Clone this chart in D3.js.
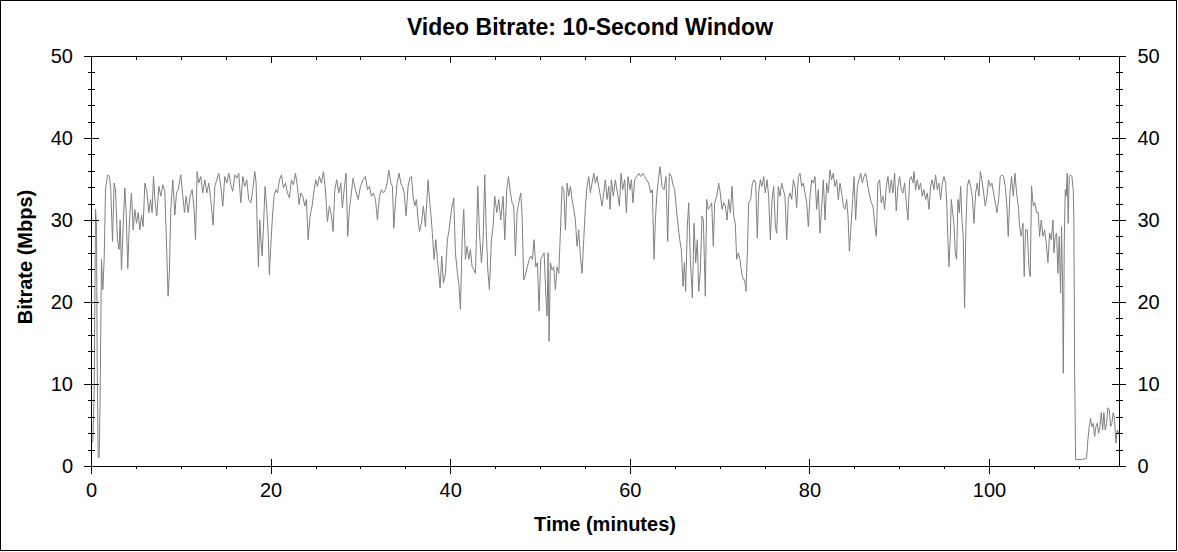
<!DOCTYPE html>
<html>
<head>
<meta charset="utf-8">
<script src="https://cdn.jsdelivr.net/npm/d3@7"></script>
<style>
  body { margin: 0; background: #fff; }
  text { font-family: Arial, "Liberation Sans", sans-serif; }
</style>
</head>
<body>
<script>

// time of each sample (minutes) and bitrate (Mbps)
const minutes = [
    0.00,0.15,0.30,0.45,0.56,0.63,0.74,0.85,0.96,1.11,
    1.26,1.41,1.56,1.78,2.00,2.15,2.34,2.52,2.67,2.89,
    3.08,3.19,3.34,3.52,3.71,3.86,4.04,4.23,4.45,4.64,
    4.82,5.01,5.19,5.38,5.57,5.75,5.94,6.16,6.38,6.57,
    6.75,6.90,7.09,7.27,7.50,7.72,7.94,8.16,8.35,8.53,
    8.68,8.83,9.05,9.28,9.46,9.65,9.94,10.17,10.35,10.54,
    10.76,10.98,11.21,11.43,11.58,11.76,11.95,12.17,12.39,12.62,
    12.84,13.06,13.28,13.54,13.73,13.95,14.17,14.40,14.62,14.84,
    15.07,15.29,15.51,15.73,15.96,16.18,16.40,16.62,16.85,17.07,
    17.29,17.51,17.74,17.96,18.18,18.33,18.48,18.59,18.74,18.89,
    19.00,19.15,19.33,19.52,19.67,19.81,19.96,20.15,20.33,20.52,
    20.71,20.93,21.15,21.37,21.60,21.82,22.04,22.26,22.49,22.71,
    22.93,23.12,23.30,23.53,23.75,23.93,24.12,24.34,24.56,24.79,
    24.97,25.16,25.38,25.60,25.83,26.05,26.27,26.49,26.72,26.90,
    27.09,27.31,27.53,27.76,27.94,28.13,28.35,28.53,28.72,
    29.13,29.39,29.69,29.95,30.24,30.50,30.73,30.95,31.17,31.40,
    31.62,31.84,32.06,32.29,32.51,32.73,32.92,33.10,33.33,33.51,
    33.66,33.84,34.03,34.25,34.44,34.62,34.81,35.03,35.25,35.44,
    35.63,35.81,36.00,36.18,36.37,36.52,36.74,36.96,37.18,37.33,
    37.48,37.67,37.85,38.00,38.15,38.34,38.52,38.67,38.82,39.00,
    39.19,39.41,39.63,39.82,40.00,40.15,40.34,40.52,40.75,40.93,
    41.08,41.27,41.45,41.64,41.82,42.01,42.19,42.38,42.60,42.75,
    42.90,43.01,43.20,43.42,43.61,43.79,43.94,44.13,44.31,44.53,
    44.72,44.90,45.13,45.35,45.57,45.83,46.02,46.24,46.43,46.65,
    46.83,47.02,47.20,47.39,47.58,47.80,47.95,48.13,48.36,48.54,
    48.73,48.91,49.10,49.28,49.47,49.65,49.84,50.02,50.21,50.40,
    50.58,50.73,50.84,50.95,51.10,51.29,51.47,51.66,51.84,52.03,
    52.21,52.40,52.59,52.77,52.96,53.14,53.33,53.51,53.70,53.88,
    54.07,54.25,54.44,54.63,54.81,55.00,55.18,55.37,55.55,55.74,
    55.93,56.11,56.30,56.48,56.67,56.85,57.04,57.22,57.41,57.60,
    57.74,
    57.89,58.11,58.33,58.56,58.78,58.97,59.15,59.37,59.56,59.74,
    59.97,60.12,60.30,60.49,60.71,60.93,61.15,61.38,61.60,61.82,
    62.04,62.27,62.45,62.64,62.79,62.94,63.12,63.31,63.53,63.75,
    63.97,64.16,64.35,64.57,64.79,64.94,65.13,65.31,65.50,65.68,
    65.87,66.02,66.16,66.35,66.50,66.68,66.91,67.09,67.28,67.46,
    67.61,67.80,67.98,68.13,68.35,68.50,68.69,68.87,69.06,69.24,
    69.39,69.62,69.84,70.02,70.21,70.40,70.58,70.77,70.95,71.14,
    71.32,71.51,71.69,71.84,72.03,72.21,72.40,72.58,72.73,72.88,
    73.03,73.18,73.40,73.59,73.77,73.96,74.14,74.29,74.48,74.66,
    74.85,75.03,75.22,75.40,75.59,75.78,75.96,76.15,76.30,76.48,
    76.67,76.85,77.04,77.22,77.41,77.59,77.78,77.97,78.15,78.34,
    78.52,78.71,78.89,79.08,79.26,79.45,79.64,79.82,80.01,80.19,
    80.38,80.56,80.75,80.93,81.12,81.31,81.49,81.68,81.86,82.05,
    82.23,82.42,82.60,82.79,82.98,83.16,83.35,83.53,83.72,83.90,
    84.09,84.24,84.39,84.57,84.76,84.91,85.09,85.28,85.46,85.65,
    85.83,86.02,86.20,86.39,86.58,
    86.83,87.02,87.20,87.39,87.57,87.76,87.94,88.13,88.32,88.50,
    88.69,88.87,89.06,89.24,89.43,89.61,89.80,89.99,90.17,90.36,
    90.54,90.73,90.91,91.10,91.28,91.47,91.58,91.77,91.95,92.14,
    92.32,92.51,92.69,92.88,93.07,93.25,93.44,93.62,93.81,93.99,
    94.18,94.36,94.55,94.74,94.92,95.11,95.26,95.37,95.48,95.63,
    95.74,95.89,96.03,96.18,96.33,96.48,96.63,96.78,96.93,97.07,
    97.22,97.37,97.52,97.70,97.89,98.08,98.26,98.45,98.63,98.82,
    98.97,99.15,99.34,99.52,99.71,99.89,100.08,100.26,100.45,100.64,
    100.82,101.01,101.19,101.38,101.56,101.75,101.93,102.08,102.27,102.45,
    102.64,102.83,103.01,103.20,103.35,103.53,103.72,103.86,104.01,104.20,
    104.38,104.53,104.68,104.87,105.05,105.24,105.42,105.57,105.76,105.94,
    106.13,106.31,106.50,106.69,106.87,107.06,107.17,107.32,107.46,107.61,
    107.76,107.91,108.02,108.13,108.21,108.32,108.43,108.54,108.65,108.76,
    108.87,109.02,109.17,109.32,109.39,109.47,109.58,110.21,110.80,110.95,
    111.10,111.25,111.40,111.55,111.70,111.84,111.99,112.14,112.29,112.44,
    112.59,112.73,112.88,113.03,113.18,113.33,113.48,113.62,113.77,113.92,
    114.07,114.22,114.37
];

const mbps = [
    2.9,3.0,8.9,31.3,29.2,13.0,1.1,1.0,8.1,25.2,
    21.5,25.2,33.7,35.5,35.3,33.7,27.4,34.5,33.7,27.6,
    26.4,30.0,23.9,29.2,33.9,30.9,24.1,30.0,33.3,28.8,
    31.3,29.6,30.9,28.8,30.6,29.2,34.5,33.5,30.9,32.5,
    30.9,35.3,32.1,30.5,34.1,32.9,34.3,33.5,27.2,20.7,
    23.9,31.3,34.9,30.6,33.3,33.7,35.5,32.9,30.9,32.9,
    30.9,32.9,33.7,31.3,27.6,35.9,34.5,35.3,33.3,34.9,
    33.3,34.5,32.5,29.4,34.1,34.9,35.7,34.1,31.7,35.3,
    34.5,35.7,34.3,33.5,35.5,35.1,35.7,32.1,35.3,34.1,
    34.9,32.5,32.1,33.7,35.9,34.5,28.0,24.3,30.0,27.2,
    25.6,29.2,34.1,31.3,28.4,23.3,26.8,30.5,32.9,33.7,
    33.3,34.9,35.5,33.9,34.5,33.3,32.7,34.9,34.3,35.7,
    34.1,31.9,33.3,32.9,31.7,32.5,27.6,30.5,31.7,33.7,
    34.9,34.1,35.3,34.5,35.9,33.7,29.8,31.7,30.5,28.6,
    33.7,34.9,33.3,34.5,31.5,33.7,35.7,28.0,31.3,
    35.1,33.7,32.5,34.1,34.9,35.3,33.7,34.1,32.9,33.3,
    32.5,30.0,32.9,33.7,33.3,33.7,34.5,36.1,34.5,34.1,
    29.0,32.1,34.5,35.7,34.5,34.1,33.3,30.5,34.1,35.1,
    35.3,32.9,31.7,32.5,30.0,28.6,29.6,31.7,29.2,32.1,
    34.9,32.1,30.0,27.6,25.2,27.6,25.2,23.5,21.7,25.6,
    22.3,23.5,27.6,28.8,30.5,31.7,32.7,26.0,23.5,21.9,
    19.1,27.6,31.3,25.2,26.8,25.2,26.4,24.3,23.9,23.5,
    29.2,34.1,28.4,24.8,27.6,35.5,29.2,23.9,21.5,27.6,
    29.2,32.9,30.9,32.5,30.0,32.9,27.6,33.7,35.3,33.3,
    32.1,31.7,25.6,30.9,32.1,33.3,30.5,22.7,23.5,24.3,
    25.2,25.6,25.2,27.6,24.3,24.8,18.9,25.2,25.6,26.0,
    21.1,18.3,26.0,15.2,24.8,23.9,24.3,21.5,24.3,23.5,
    28.4,34.1,33.7,28.8,34.5,32.9,34.1,32.5,31.3,30.0,
    26.8,28.8,25.6,23.5,27.6,31.7,34.1,35.3,33.3,34.5,
    35.7,34.5,35.3,34.1,32.9,31.7,33.3,34.9,32.5,34.1,
    31.3,
    34.9,32.9,34.9,33.3,31.7,35.7,33.7,34.9,30.9,35.3,
    33.7,34.9,32.1,34.9,35.3,35.7,35.3,35.7,35.3,34.9,
    34.5,33.3,33.7,25.2,30.0,32.9,34.9,36.5,34.1,33.7,
    35.3,27.4,35.7,35.3,34.1,33.7,31.3,29.4,27.6,26.4,
    21.9,24.8,21.3,29.2,32.1,25.2,20.5,29.6,24.8,27.6,
    21.3,23.9,30.5,30.0,20.7,32.5,31.3,31.7,32.1,26.8,
    32.1,32.9,34.5,33.3,31.3,32.1,31.7,30.0,32.5,30.9,
    34.1,30.5,29.6,25.2,26.0,25.2,23.5,22.7,22.7,21.3,
    26.0,32.1,32.5,34.5,34.9,34.5,27.8,33.3,34.9,34.1,
    35.3,33.3,34.9,32.9,27.6,32.5,34.1,29.2,28.4,34.1,
    32.9,34.5,33.7,32.9,27.6,32.5,33.3,32.5,34.9,34.1,
    31.5,35.3,35.7,34.1,34.5,33.3,32.1,29.2,32.9,34.9,
    34.5,35.3,31.3,33.7,28.4,31.7,34.9,30.0,34.5,33.3,
    36.1,34.9,35.7,34.1,34.9,32.5,34.5,33.3,31.7,31.3,
    32.5,30.5,26.2,29.2,32.5,35.3,30.0,34.1,34.9,35.7,
    34.5,35.3,35.7,34.5,33.3,
    32.1,31.7,29.6,28.0,34.5,34.9,32.1,32.9,31.3,34.1,
    35.3,33.3,34.9,33.3,35.7,31.1,34.1,35.3,33.7,33.3,
    34.5,32.1,30.0,34.9,35.3,34.5,35.9,33.7,34.9,33.7,
    34.5,32.9,33.7,32.5,33.3,31.3,34.1,34.9,33.7,35.5,
    33.7,34.5,32.5,34.5,35.3,34.5,31.3,27.2,24.3,28.0,
    32.5,30.9,29.6,26.0,25.2,32.5,30.9,34.1,30.0,28.0,
    19.3,29.2,34.1,34.9,34.1,32.9,29.6,33.3,34.5,32.9,
    35.9,34.9,33.3,31.7,32.9,34.9,34.1,34.5,33.3,32.1,
    30.9,32.5,35.3,35.5,35.3,34.1,31.7,28.0,33.3,35.3,
    32.9,35.7,33.3,31.7,29.2,28.0,29.6,23.1,28.8,28.8,
    24.3,23.1,34.1,31.7,32.1,30.9,30.9,28.0,30.0,28.0,
    28.8,27.2,24.8,28.4,27.6,30.0,26.0,28.0,28.4,23.5,
    28.0,21.1,29.2,21.9,11.3,27.2,33.7,32.9,35.7,29.6,
    35.3,35.5,35.3,33.7,30.0,12.1,0.8,0.8,0.9,3.2,
    4.8,5.8,4.8,5.2,3.6,4.8,5.2,4.0,4.8,6.5,
    4.4,6.5,4.4,5.2,7.1,6.9,4.8,5.2,6.5,5.7,
    2.8,4.4,4.0
];

const xTicks = [0, 20, 40, 60, 80, 100];
const xMinorTicks = [5, 10, 15, 25, 30, 35, 45, 50, 55, 65, 70, 75, 85, 90, 95, 105, 110];
const yTicks = [0, 10, 20, 30, 40, 50];
const yMinorTicks = [2, 4, 6, 8, 12, 14, 16, 18, 22, 24, 26, 28, 32, 34, 36, 38, 42, 44, 46, 48];

const titleText = 'Video Bitrate: 10-Second Window';
const xTitle = 'Time (minutes)';
const yTitle = 'Bitrate (Mbps)';

const width = 1178, height = 552;
const plot = {left: 91, right: 1119, top: 56, bottom: 466};

const svg = d3.select('body').append('svg')
    .attr('width', width)
    .attr('height', height);

// outer frame
svg.append('rect')
    .attr('x', 0.5).attr('y', 0.5)
    .attr('width', 1176).attr('height', 550)
    .attr('fill', '#fff')
    .attr('stroke', '#000');

const xScale = d3.scaleLinear()
    .domain([0, 114.47])
    .range([plot.left, plot.right]);

const yScale = d3.scaleLinear()
    .domain([0, 50])
    .range([plot.bottom, plot.top]);

const data = minutes.map((m, i) => ({m: m, v: mbps[i]}))
    .filter(d => d.v !== undefined);

const lineGenerator = d3.line()
    .x(d => xScale(d.m) + 0.5)
    .y(d => yScale(d.v));

svg.append('path')
    .datum(data)
    .attr('fill', 'none')
    .attr('stroke', '#808080')
    .attr('stroke-width', 1)
    .attr('d', lineGenerator);

function styleAxis(g) {
    g.attr('font-size', 20)
     .attr('font-family', 'Arial, "Liberation Sans", sans-serif')
     .attr('shape-rendering', 'crispEdges');
    g.selectAll('text').attr('fill', '#000');
    g.selectAll('line, path').attr('stroke', '#000');
}

// left axis
const leftAxis = svg.append('g').attr('transform', `translate(${plot.left},0)`)
    .call(d3.axisLeft(yScale).tickValues(yTicks).tickSize(7).tickSizeOuter(0).tickPadding(11));
leftAxis.selectAll('.tick line').attr('x1', 8);
styleAxis(leftAxis);

const leftMinor = svg.append('g').attr('transform', `translate(${plot.left},0)`)
    .call(d3.axisLeft(yScale).tickValues(yMinorTicks).tickSize(3.5).tickFormat(''));
leftMinor.select('.domain').remove();
leftMinor.selectAll('.tick line').attr('x1', 3.5);
styleAxis(leftMinor);

// right axis
const rightAxis = svg.append('g').attr('transform', `translate(${plot.right},0)`)
    .call(d3.axisRight(yScale).tickValues(yTicks).tickSize(7).tickSizeOuter(0).tickPadding(11.5));
rightAxis.selectAll('.tick line').attr('x1', -7);
styleAxis(rightAxis);

const rightMinor = svg.append('g').attr('transform', `translate(${plot.right},0)`)
    .call(d3.axisRight(yScale).tickValues(yMinorTicks).tickSize(3.5).tickFormat(''));
rightMinor.select('.domain').remove();
rightMinor.selectAll('.tick line').attr('x1', -3.5);
styleAxis(rightMinor);

// bottom axis
const bottomAxis = svg.append('g').attr('transform', `translate(0,${plot.bottom})`)
    .call(d3.axisBottom(xScale).tickValues(xTicks).tickSize(8).tickSizeOuter(0).tickPadding(8.5));
bottomAxis.selectAll('.tick line').attr('y1', -7);
styleAxis(bottomAxis);

const bottomMinor = svg.append('g').attr('transform', `translate(0,${plot.bottom})`)
    .call(d3.axisBottom(xScale).tickValues(xMinorTicks).tickSize(3).tickFormat(''));
bottomMinor.select('.domain').remove();
styleAxis(bottomMinor);

// top axis, ticks point inside
const topAxis = svg.append('g').attr('transform', `translate(0,${plot.top})`)
    .call(d3.axisBottom(xScale).tickValues(xTicks).tickSize(7).tickSizeOuter(0).tickFormat(''));
styleAxis(topAxis);

const topMinor = svg.append('g').attr('transform', `translate(0,${plot.top})`)
    .call(d3.axisBottom(xScale).tickValues(xMinorTicks).tickSize(4).tickFormat(''));
topMinor.select('.domain').remove();
styleAxis(topMinor);

// titles
svg.append('text')
    .attr('x', 590)
    .attr('y', 35)
    .attr('text-anchor', 'middle')
    .attr('font-size', 23)
    .attr('font-weight', 'bold')
    .text(titleText);

svg.append('text')
    .attr('x', 605)
    .attr('y', 531)
    .attr('text-anchor', 'middle')
    .attr('font-size', 20)
    .attr('font-weight', 'bold')
    .text(xTitle);

svg.append('text')
    .attr('transform', 'translate(32,257) rotate(-90)')
    .attr('text-anchor', 'middle')
    .attr('font-size', 20)
    .attr('font-weight', 'bold')
    .text(yTitle);

</script>
</body>
</html>
